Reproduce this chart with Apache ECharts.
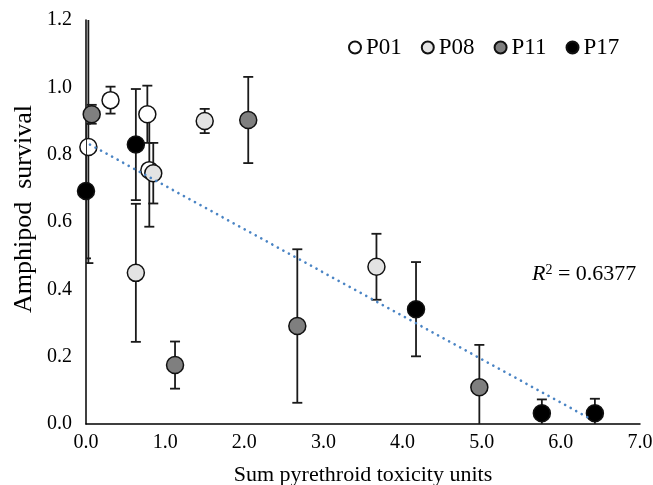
<!DOCTYPE html>
<html>
<head>
<meta charset="utf-8">
<script src="https://cdn.jsdelivr.net/npm/echarts@6/dist/echarts.min.js"></script>
<style>
  html, body { margin: 0; padding: 0; background: #fff; }
  #chart { width: 653px; height: 485px; }
</style>
</head>
<body>
<div id="chart"></div>
<script>
// each point: [toxicity units, survival, error below, error above]
const p01 = [[0.03, 0.823, 0.345, 0.40], [0.31, 0.962, 0.04, 0.04], [0.775, 0.92, 0.085, 0.085], [0.80, 0.754, 0.168, 0.168]]
const p08 = [[0.63, 0.449, 0.205, 0.205], [0.85, 0.745, 0.09, 0.09], [1.50, 0.90, 0.036, 0.036], [3.67, 0.467, 0.098, 0.098]]
const p11 = [[0.072, 0.92, 0.028, 0.028], [1.125, 0.175, 0.07, 0.07], [2.05, 0.903, 0.128, 0.128], [2.67, 0.291, 0.228, 0.228], [4.97, 0.109, 0.126, 0.126]]
const p17 = [[0, 0.692, 0.2, 0.2], [0.63, 0.83, 0.165, 0.165], [4.17, 0.341, 0.14, 0.14], [5.76, 0.032, 0.041, 0.041], [6.43, 0.032, 0.043, 0.043]]
// regression line end points
const trend = [[0.05, 0.83], [6.4, 0.012]]
const r2Text = '0.6377'

const serif = 'Liberation Serif'
const groups = [
    { name: 'P01', data: p01, color: '#ffffff' },
    { name: 'P08', data: p08, color: '#e3e3e3' },
    { name: 'P11', data: p11, color: '#7f7f7f' },
    { name: 'P17', data: p17, color: '#000000' }
]

function errorBars(api) {
    const x = api.value(0), y = api.value(1)
    const lo = api.coord([x, y - api.value(2)])
    const hi = api.coord([x, y + api.value(3)])
    const w = 5
    const style = { stroke: '#1a1a1a', lineWidth: 1.8 }
    return {
        type: 'group',
        children: [
            { type: 'line', shape: { x1: lo[0], y1: lo[1], x2: hi[0], y2: hi[1] }, style },
            { type: 'line', shape: { x1: lo[0] - w, y1: lo[1], x2: lo[0] + w, y2: lo[1] }, style },
            { type: 'line', shape: { x1: hi[0] - w, y1: hi[1], x2: hi[0] + w, y2: hi[1] }, style }
        ]
    }
}

let series = []
groups.forEach((g, i) => {
    series.push({
        type: 'custom',
        name: g.name + '_err',
        renderItem: (params, api) => errorBars(api),
        data: g.data,
        clip: true,
        z: 2 + i * 2,
        silent: true
    })
    series.push({
        type: 'scatter',
        name: g.name,
        data: g.data.map(d => [d[0], d[1]]),
        symbol: 'circle',
        symbolSize: 17,
        itemStyle: { color: g.color, borderColor: '#111', borderWidth: 1.5, opacity: 1 },
        z: 3 + i * 2
    })
})
series.push({
    type: 'line',
    name: 'trend',
    data: trend,
    symbol: 'none',
    lineStyle: { color: '#4a84c4', width: 2.6, type: [0.1, 6.2], cap: 'round' },
    z: 20,
    silent: true
})

const chart = echarts.init(document.getElementById('chart'))
chart.setOption({
    animation: false,
    backgroundColor: '#fff',
    grid: { left: 86, right: 13, top: 20, bottom: 61, outerBoundsMode: 'none' },
    legend: {
        data: groups.map(g => g.name),
        left: 343,
        top: 31,
        icon: 'circle',
        itemWidth: 12,
        itemHeight: 12,
        itemGap: 19,
        textStyle: { fontFamily: serif, fontSize: 23, color: '#000' }
    },
    xAxis: {
        type: 'value',
        min: 0,
        max: 7,
        interval: 1,
        name: 'Sum pyrethroid toxicity units',
        nameLocation: 'middle',
        nameGap: 40,
        nameTextStyle: { fontFamily: serif, fontSize: 22, color: '#000' },
        axisLine: { lineStyle: { color: '#000', width: 1.5 } },
        axisTick: { show: false },
        splitLine: { show: false },
        axisLabel: { fontFamily: serif, fontSize: 20, color: '#000', margin: 9, formatter: v => v.toFixed(1) }
    },
    yAxis: {
        type: 'value',
        min: 0,
        max: 1.2,
        interval: 0.2,
        axisLine: { show: true, lineStyle: { color: '#000', width: 1.5 } },
        axisTick: { show: false },
        splitLine: { show: false },
        axisLabel: { fontFamily: serif, fontSize: 20, color: '#000', margin: 14, formatter: v => v.toFixed(1) }
    },
    graphic: [{
        type: 'text',
        x: 24,
        y: 209,
        rotation: Math.PI / 2,
        style: {
            text: 'Amphipod  survival',
            fontFamily: serif,
            fontSize: 26,
            fill: '#000',
            align: 'center',
            verticalAlign: 'middle'
        }
    }, {
        type: 'text',
        left: 532,
        top: 263,
        style: {
            text: '{i|R}{s|2}{n| = ' + r2Text + '}',
            rich: {
                i: { fontFamily: serif, fontSize: 22, fontStyle: 'italic', fill: '#000' },
                s: { fontFamily: serif, fontSize: 14, fill: '#000', verticalAlign: 'top', padding: [0, 0, 8, 0] },
                n: { fontFamily: serif, fontSize: 22, fill: '#000' }
            }
        }
    }],
    series
})
</script>
</body>
</html>
